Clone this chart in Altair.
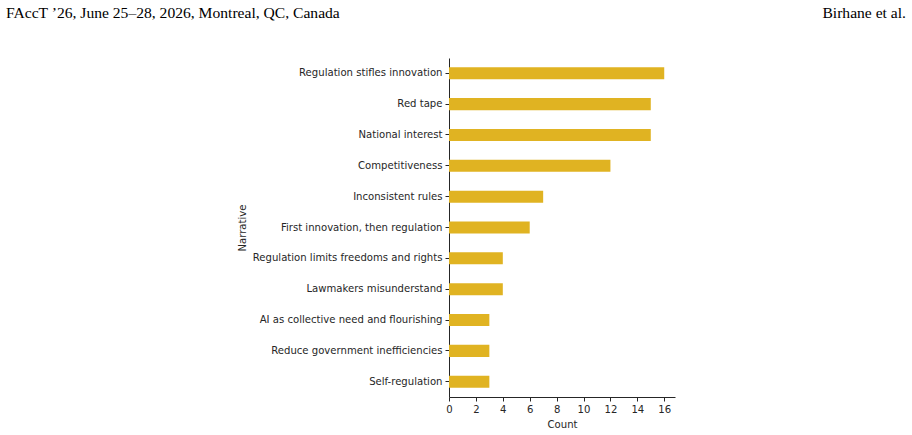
import altair as alt
import pandas as pd

# Narratives and how often each one appears
narratives = [
    "Regulation stifles innovation",
    "Red tape",
    "National interest",
    "Competitiveness",
    "Inconsistent rules",
    "First innovation, then regulation",
    "Regulation limits freedoms and rights",
    "Lawmakers misunderstand",
    "AI as collective need and flourishing",
    "Reduce government inefficiencies",
    "Self-regulation",
]
counts = [16, 15, 15, 12, 7, 6, 4, 4, 3, 3, 3]
x_ticks = [0, 2, 4, 6, 8, 10, 12, 14, 16]

header_left = "FAccT \u201926, June 25\u201328, 2026, Montreal, QC, Canada"
header_right = "Birhane et al."

df = pd.DataFrame({"Narrative": narratives, "Count": counts})

INK = "#262626"
BAR = "#e0b322"

bars = alt.Chart(df).mark_bar(color=BAR).encode(
    x=alt.X(
        "Count:Q",
        scale=alt.Scale(domain=[0, 16.8], nice=False, zero=True),
        axis=alt.Axis(values=x_ticks, title="Count", format="d", labelFlush=False),
    ),
    y=alt.Y(
        "Narrative:N",
        sort=narratives,
        scale=alt.Scale(paddingInner=0.61, paddingOuter=0.3),
        axis=alt.Axis(title="Narrative", labelLimit=0),
    ),
)

head = pd.DataFrame({"t": [header_left]})
left_text = alt.Chart(head).mark_text(
    align="left", baseline="alphabetic", font="Liberation Serif",
    fontSize=15.6, color="#000000",
).encode(text="t:N", x=alt.value(-443), y=alt.value(-40))

head2 = pd.DataFrame({"t": [header_right]})
right_text = alt.Chart(head2).mark_text(
    align="right", baseline="alphabetic", font="Liberation Serif",
    fontSize=15.6, color="#000000",
).encode(text="t:N", x=alt.value(457), y=alt.value(-40))

chart = (
    alt.layer(bars, left_text, right_text)
    .properties(
        width=226,
        height=339,
        autosize=alt.AutoSizeParams(type="none"),
        padding={"left": 449, "top": 58, "right": 237, "bottom": 38},
        background="white",
    )
    .configure_view(stroke=None)
    .configure_axis(
        grid=False,
        domainColor=INK,
        domainWidth=1,
        tickColor=INK,
        tickSize=4,
        tickWidth=1,
        labelColor=INK,
        titleColor=INK,
        labelFont="DejaVu Sans",
        titleFont="DejaVu Sans",
        labelFontSize=10.1,
        titleFontSize=10.1,
        titleFontWeight="normal",
        labelPadding=3,
    )
    .configure_axisX(titlePadding=5)
    .configure_axisY(titlePadding=5)
)

chart.save("out.html", embed_options={"renderer": "svg", "actions": False})
